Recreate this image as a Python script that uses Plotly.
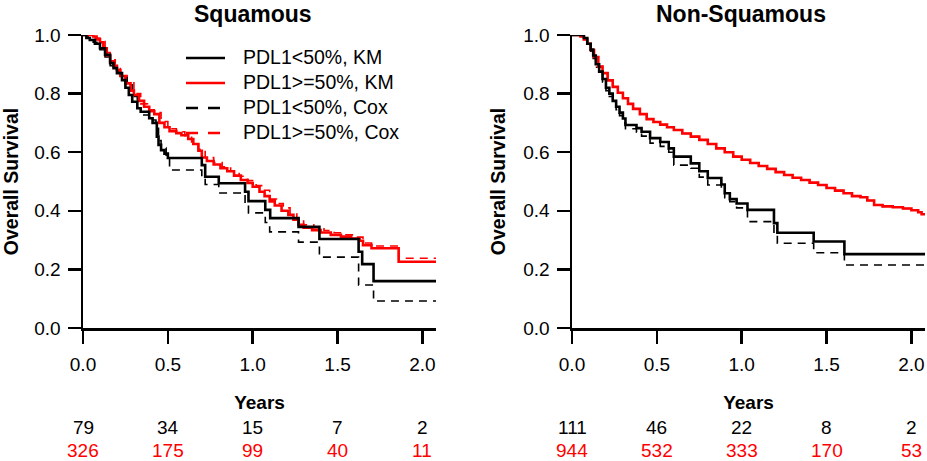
import plotly.graph_objects as go

# ---------------- data ----------------
tick_vals = [0, 0.5, 1.0, 1.5, 2.0]
tick_text = ["0.0", "0.5", "1.0", "1.5", "2.0"]
y_tick_vals = [0, 0.2, 0.4, 0.6, 0.8, 1.0]
y_tick_text = ["0.0", "0.2", "0.4", "0.6", "0.8", "1.0"]
x_end = 2.08

panel_titles = ["Squamous", "Non-Squamous"]
series_names = ["PDL1<50%, KM", "PDL1>=50%, KM", "PDL1<50%, Cox", "PDL1>=50%, Cox"]

# Squamous, PDL1<50%, Kaplan-Meier
sq_lo_km_t = [0, 0.02, 0.04, 0.07, 0.10, 0.13, 0.16, 0.18, 0.20, 0.23, 0.25, 0.27, 0.29, 0.32,
              0.34, 0.39, 0.41, 0.435, 0.445, 0.46, 0.48, 0.50, 0.70, 0.72, 0.80, 0.955, 0.975,
              1.074, 1.103, 1.27, 1.393, 1.624, 1.645, 1.712]
sq_lo_km_s = [1.0, 0.99, 0.983, 0.97, 0.955, 0.932, 0.904, 0.887, 0.87, 0.846, 0.82, 0.795, 0.772,
              0.75, 0.738, 0.716, 0.70, 0.653, 0.625, 0.607, 0.595, 0.58, 0.556, 0.516, 0.494,
              0.465, 0.433, 0.403, 0.375, 0.345, 0.304, 0.26, 0.218, 0.16]
# Squamous, PDL1<50%, Cox
sq_lo_cox_t = [0, 0.03, 0.06, 0.10, 0.13, 0.16, 0.18, 0.22, 0.26, 0.29, 0.32, 0.34, 0.39, 0.43,
               0.445, 0.46, 0.49, 0.51, 0.70, 0.72, 0.80, 0.955, 0.975, 1.074, 1.10, 1.27, 1.393,
               1.624, 1.712]
sq_lo_cox_s = [1.0, 0.99, 0.975, 0.95, 0.925, 0.895, 0.874, 0.855, 0.83, 0.79, 0.75, 0.727, 0.71,
               0.69, 0.64, 0.614, 0.59, 0.539, 0.515, 0.49, 0.461, 0.42, 0.393, 0.36, 0.328,
               0.293, 0.242, 0.147, 0.092]
# Squamous, PDL1>=50%, Kaplan-Meier
sq_hi_km_t = [0, 0.06, 0.08, 0.10, 0.12, 0.14, 0.16, 0.18, 0.20, 0.22, 0.25, 0.28, 0.30, 0.33,
              0.36, 0.39, 0.42, 0.45, 0.48, 0.51, 0.55, 0.58, 0.62, 0.65, 0.68, 0.70, 0.73, 0.77,
              0.81, 0.85, 0.89, 0.93, 0.97, 1.00, 1.04, 1.07, 1.10, 1.13, 1.17, 1.21, 1.24, 1.27,
              1.30, 1.35, 1.40, 1.46, 1.52, 1.58, 1.63, 1.65, 1.70, 1.86]
sq_hi_km_s = [1.0, 0.995, 0.985, 0.975, 0.955, 0.93, 0.91, 0.895, 0.88, 0.86, 0.835, 0.81, 0.795,
              0.775, 0.755, 0.74, 0.73, 0.70, 0.685, 0.672, 0.665, 0.658, 0.645, 0.628, 0.605,
              0.582, 0.57, 0.558, 0.545, 0.535, 0.52, 0.505, 0.495, 0.482, 0.465, 0.45, 0.432,
              0.418, 0.40, 0.386, 0.37, 0.352, 0.342, 0.334, 0.326, 0.318, 0.312, 0.305, 0.298,
              0.283, 0.272, 0.226]
# Squamous, PDL1>=50%, Cox
sq_hi_cox_t = [0, 0.07, 0.10, 0.13, 0.16, 0.19, 0.22, 0.26, 0.30, 0.34, 0.38, 0.42, 0.46, 0.50,
               0.55, 0.60, 0.64, 0.68, 0.72, 0.77, 0.82, 0.87, 0.92, 0.97, 1.02, 1.06, 1.10, 1.14,
               1.18, 1.22, 1.26, 1.30, 1.36, 1.42, 1.48, 1.54, 1.60, 1.65, 1.70, 1.86]
sq_hi_cox_s = [1.0, 0.99, 0.978, 0.94, 0.915, 0.893, 0.868, 0.84, 0.80, 0.765, 0.745, 0.735, 0.705,
               0.68, 0.67, 0.656, 0.635, 0.61, 0.582, 0.565, 0.55, 0.535, 0.518, 0.503, 0.486,
               0.47, 0.44, 0.425, 0.41, 0.392, 0.375, 0.352, 0.342, 0.333, 0.325, 0.318, 0.31,
               0.29, 0.28, 0.238]

# Non-Squamous, PDL1<50%, Kaplan-Meier
ns_lo_km_t = [0, 0.07, 0.09, 0.11, 0.125, 0.14, 0.16, 0.18, 0.20, 0.22, 0.24, 0.26, 0.28, 0.30,
              0.315, 0.38, 0.41, 0.46, 0.52, 0.57, 0.60, 0.70, 0.75, 0.80, 0.88, 0.90, 0.93,
              0.97, 1.034, 1.19, 1.21, 1.424, 1.605]
ns_lo_km_s = [1.0, 0.99, 0.97, 0.95, 0.93, 0.90, 0.875, 0.85, 0.82, 0.80, 0.775, 0.755, 0.735,
              0.715, 0.693, 0.682, 0.67, 0.648, 0.635, 0.613, 0.585, 0.562, 0.535, 0.512, 0.49,
              0.46, 0.44, 0.425, 0.403, 0.358, 0.325, 0.295, 0.252]
# Non-Squamous, PDL1<50%, Cox
ns_lo_cox_t = [0, 0.07, 0.09, 0.11, 0.125, 0.14, 0.16, 0.18, 0.20, 0.22, 0.24, 0.26, 0.28, 0.30,
               0.315, 0.38, 0.41, 0.46, 0.52, 0.57, 0.60, 0.70, 0.75, 0.80, 0.88, 0.90, 0.93,
               0.97, 1.034, 1.19, 1.21, 1.424, 1.605]
ns_lo_cox_s = [1.0, 0.99, 0.97, 0.945, 0.92, 0.89, 0.865, 0.84, 0.81, 0.79, 0.765, 0.745, 0.725,
               0.70, 0.68, 0.668, 0.655, 0.631, 0.62, 0.60, 0.556, 0.545, 0.515, 0.488, 0.47,
               0.445, 0.431, 0.41, 0.363, 0.317, 0.289, 0.257, 0.215]
# Non-Squamous, PDL1>=50%, Kaplan-Meier
ns_hi_km_t = [0, 0.05, 0.07, 0.09, 0.11, 0.13, 0.155, 0.18, 0.21, 0.24, 0.27, 0.30, 0.33, 0.36,
              0.40, 0.44, 0.48, 0.52, 0.56, 0.60, 0.65, 0.70, 0.75, 0.80, 0.85, 0.90, 0.95, 1.00,
              1.05, 1.10, 1.15, 1.20, 1.25, 1.30, 1.35, 1.40, 1.45, 1.50, 1.55, 1.60, 1.65, 1.70,
              1.74, 1.78, 1.83, 1.89, 1.95, 2.00, 2.04, 2.06]
ns_hi_km_s = [1.0, 0.995, 0.985, 0.97, 0.949, 0.925, 0.892, 0.87, 0.845, 0.823, 0.803, 0.784,
              0.765, 0.748, 0.73, 0.713, 0.703, 0.694, 0.685, 0.676, 0.664, 0.653, 0.642, 0.628,
              0.613, 0.60, 0.585, 0.574, 0.563, 0.553, 0.543, 0.532, 0.522, 0.513, 0.505, 0.496,
              0.488, 0.478, 0.469, 0.46, 0.45, 0.446, 0.435, 0.42, 0.415, 0.412, 0.408, 0.402,
              0.395, 0.388]
# Non-Squamous, PDL1>=50%, Cox (lies under the KM curve)
ns_hi_cox_t = [0, 0.05, 0.07, 0.09, 0.11, 0.13, 0.155, 0.18, 0.21, 0.24, 0.27, 0.30, 0.33, 0.36,
               0.40, 0.44, 0.48, 0.52, 0.56, 0.60, 0.65, 0.70, 0.75, 0.80, 0.85, 0.90, 0.95, 1.00,
               1.05, 1.10, 1.15, 1.20, 1.25, 1.30, 1.35, 1.40, 1.45, 1.50, 1.55, 1.60, 1.65, 1.70,
               1.74, 1.78, 1.83, 1.89, 1.95, 2.00, 2.04, 2.06]
ns_hi_cox_s = [1.0, 0.995, 0.985, 0.97, 0.949, 0.925, 0.892, 0.87, 0.845, 0.823, 0.803, 0.784,
               0.765, 0.748, 0.73, 0.713, 0.703, 0.694, 0.685, 0.676, 0.664, 0.653, 0.642, 0.628,
               0.613, 0.60, 0.585, 0.574, 0.563, 0.553, 0.543, 0.532, 0.522, 0.513, 0.505, 0.496,
               0.488, 0.478, 0.469, 0.46, 0.45, 0.446, 0.435, 0.42, 0.415, 0.412, 0.408, 0.402,
               0.395, 0.388]

at_risk_lo = [[79, 34, 15, 7, 2], [111, 46, 22, 8, 2]]
at_risk_hi = [[326, 175, 99, 40, 11], [944, 532, 333, 170, 53]]

# ---------------- figure ----------------
W, H = 927, 461
FONT = "Liberation Sans, Arial, Helvetica, sans-serif"
RED = "#ff0000"

panels = [
    dict(km_lo=(sq_lo_km_t, sq_lo_km_s), km_hi=(sq_hi_km_t, sq_hi_km_s),
         cox_lo=(sq_lo_cox_t, sq_lo_cox_s), cox_hi=(sq_hi_cox_t, sq_hi_cox_s)),
    dict(km_lo=(ns_lo_km_t, ns_lo_km_s), km_hi=(ns_hi_km_t, ns_hi_km_s),
         cox_lo=(ns_lo_cox_t, ns_lo_cox_s), cox_hi=(ns_hi_cox_t, ns_hi_cox_s)),
]

x_domains = [[83 / W, 436 / W], [572 / W, 925 / W]]
y_domain = [1 - 328 / H, 1 - 35 / H]
title_x = [253 / W, 741 / W]

fig = go.Figure()


def extend(t, s):
    t = list(t) + [x_end]
    s = list(s) + [s[-1]]
    return t, s


DASH = "8px,6px"
for i, p in enumerate(panels):
    xa = "x" if i == 0 else "x2"
    ya = "y" if i == 0 else "y2"
    specs = [
        ("cox_hi", RED, DASH, 1.6, series_names[3]),
        ("cox_lo", "black", DASH, 1.6, series_names[2]),
        ("km_hi", RED, "solid", 2.6, series_names[1]),
        ("km_lo", "black", "solid", 2.6, series_names[0]),
    ]
    for key, col, dash, w, name in specs:
        t, s = p[key]
        assert len(t) == len(s)
        tt, ss = extend(t, s)
        fig.add_trace(go.Scatter(
            x=tt, y=ss, mode="lines", line=dict(color=col, width=w, dash=dash, shape="hv"),
            name=name, showlegend=False, xaxis=xa, yaxis=ya, hoverinfo="skip"))

# key (drawn in page coordinates, as in the original figure)
key_colors = ["black", RED, "black", RED]
key_dash = ["solid", "solid", "12px,10px", "12px,10px"]
for k, name in enumerate(series_names):
    yk = 1 - (58 + 25 * k) / H
    fig.add_shape(type="line", xref="paper", yref="paper", x0=186 / W, x1=225 / W,
                  y0=yk, y1=yk, line=dict(color=key_colors[k], width=2.6, dash=key_dash[k]))
    fig.add_annotation(text=name, xref="paper", yref="paper", x=241 / W, y=yk + 1 / H,
                       xanchor="left", yanchor="middle", showarrow=False,
                       font=dict(size=19.5, family=FONT, color="black"))

axis_common = dict(showline=True, linecolor="black", linewidth=2.5, ticks="outside",
                   ticklen=13, tickwidth=2.5, tickcolor="black", showgrid=False,
                   zeroline=False, tickfont=dict(size=19, color="black", family=FONT))

for i in range(2):
    xk = "xaxis" if i == 0 else "xaxis2"
    yk = "yaxis" if i == 0 else "yaxis2"
    fig.update_layout({
        xk: dict(axis_common, domain=x_domains[i], range=[0, x_end], tickvals=tick_vals,
                 ticktext=tick_text, anchor="y" if i == 0 else "y2", ticklabelstandoff=5,
                 title=dict(text="<b>Years</b>", font=dict(size=19, family=FONT, color="black"),
                            standoff=22)),
        yk: dict(axis_common, domain=y_domain, range=[0, 1.0], tickvals=y_tick_vals,
                 ticktext=y_tick_text, anchor="x" if i == 0 else "x2", ticklabelstandoff=3,
                 title=dict(text="<b>Overall Survival</b>",
                            font=dict(size=19.5, family=FONT, color="black"), standoff=13)),
    })
    fig.add_annotation(text="<b>" + panel_titles[i] + "</b>", xref="paper", yref="paper",
                       x=title_x[i], y=1 - 14 / H, xanchor="center", yanchor="middle",
                       showarrow=False, font=dict(size=23, family=FONT, color="black"))
    for j, tv in enumerate(tick_vals):
        fig.add_annotation(text=str(at_risk_lo[i][j]), xref="x" if i == 0 else "x2",
                           yref="paper", x=tv, y=1 - 427 / H, xanchor="center",
                           yanchor="middle", showarrow=False,
                           font=dict(size=19, family=FONT, color="black"))
        fig.add_annotation(text=str(at_risk_hi[i][j]), xref="x" if i == 0 else "x2",
                           yref="paper", x=tv, y=1 - 450 / H, xanchor="center",
                           yanchor="middle", showarrow=False,
                           font=dict(size=19, family=FONT, color=RED))

fig.update_layout(
    width=W, height=H, margin=dict(l=0, r=0, t=0, b=0, autoexpand=False),
    paper_bgcolor="white", plot_bgcolor="white",
    font=dict(family=FONT, color="black"),
    showlegend=False,
)

fig.write_html("out.html", config={"displayModeBar": False, "staticPlot": True},
               post_script="document.body.style.margin='0px';"
                           "document.body.style.overflow='hidden';")
